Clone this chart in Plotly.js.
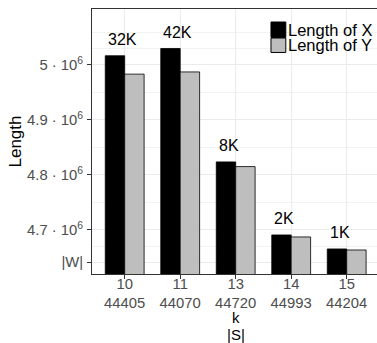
<!DOCTYPE html>
<html>
<head>
<meta charset="utf-8">
<script src="https://cdn.plot.ly/plotly-3.0.1.min.js"></script>
<style>html,body{margin:0;padding:0;background:#fff;}#chart{width:377px;height:343px;}</style>
</head>
<body>
<div id="chart"></div>
<script>
// ---- data ----
const kValues = ["10", "11", "13", "14", "15"];
const sizeS = ["44405", "44070", "44720", "44993", "44204"];
const lengthX = [5016400, 5029600, 4823600, 4690900, 4665500];
const lengthY = [4983000, 4987000, 4815100, 4687300, 4663600];
const barLabels = ["32K", "42K", "8K", "2K", "1K"];
const seriesNames = ["Length of X", "Length of Y"];
const seriesColors = ["#000000", "#BEBEBE"];
const W = 4641652;
const yTickVals = [W, 4700000, 4800000, 4900000, 5000000];
const yTickText = ["|W|", "4.7 · 10<sup>6</sup>", "4.8 · 10<sup>6</sup>", "4.9 · 10<sup>6</sup>", "5 · 10<sup>6</sup>"];
const yMinorVals = [4670826, 4750000, 4850000, 4950000, 5029174, 5058348];
const xTitleLines = ["k", "|S|"];

const xTickText = kValues.map((k, i) => k + "<br>" + sizeS[i]);

const traces = [lengthX, lengthY].map((vals, i) => ({
  type: "bar",
  x: kValues,
  y: vals,
  name: seriesNames[i],
  marker: {color: seriesColors[i], line: {color: "#000000", width: 0.8}},
  showlegend: false,
  hoverinfo: "skip"
}));

// labels above each group (category index positions)
const annotations = kValues.map((k, i) => ({
  x: i, y: lengthX[i], xref: "x", yref: "y",
  text: barLabels[i], showarrow: false,
  xanchor: "left", yanchor: "middle", xshift: -19, yshift: 16,
  font: {family: "Liberation Sans, Arial, sans-serif", size: 16, color: "#000000"}
}));

// manual legend
const legX0 = 0.628, legX1 = 0.68;
const legRows = [[0.8927, 0.9509], [0.8360, 0.8905]];
const shapes = seriesNames.map((n, i) => ({
  type: "rect", xref: "paper", yref: "paper",
  x0: legX0, x1: legX1, y0: legRows[i][0], y1: legRows[i][1],
  fillcolor: seriesColors[i], line: {color: "#000000", width: 1}
}));
seriesNames.forEach((n, i) => {
  annotations.push({
    xref: "paper", yref: "paper", x: 0.679, y: (legRows[i][0] + legRows[i][1]) / 2,
    text: n, showarrow: false, xanchor: "left", yanchor: "middle",
    font: {family: "Liberation Sans, Arial, sans-serif", size: 16.5, color: "#000000"}
  });
});

// x axis title (two lines, placed separately)
const xTitleY = [-0.1625, -0.2267];
xTitleLines.forEach((t, i) => {
  annotations.push({
    xref: "paper", yref: "paper", x: 0.505, y: xTitleY[i],
    text: t, showarrow: false, xanchor: "center", yanchor: "middle", borderpad: 0,
    font: {family: "Liberation Sans, Arial, sans-serif", size: 15, color: "#000000"}
  });
});

const layout = {
  width: 377, height: 343,
  margin: {l: 92, r: 0, t: 9, b: 69},
  paper_bgcolor: "#ffffff", plot_bgcolor: "#ffffff",
  barmode: "group", bargap: 0.3, bargroupgap: 0,
  font: {family: "Liberation Sans, Arial, sans-serif"},
  xaxis: {
    type: "category", range: [-0.589, 4.546],
    tickmode: "array", tickvals: kValues, ticktext: xTickText,
    tickfont: {size: 14.8, color: "#4D4D4D"},
    ticks: "outside", ticklen: 4, tickcolor: "#333333", tickwidth: 1,
    ticklabelstandoff: -8,
    showgrid: true, gridcolor: "#EBEBEB", gridwidth: 1,
    showline: true, linecolor: "#333333", linewidth: 1, mirror: true,
    zeroline: false, fixedrange: true
  },
  yaxis: {
    range: [4620000, 5101300],
    tickmode: "array", tickvals: yTickVals, ticktext: yTickText,
    tickfont: {size: 14.8, color: "#4D4D4D"},
    ticks: "outside", ticklen: 4, tickcolor: "#333333", tickwidth: 1,
    ticklabelstandoff: 1,
    showgrid: true, gridcolor: "#EBEBEB", gridwidth: 1,
    minor: {tickmode: "array", tickvals: yMinorVals, showgrid: true, gridcolor: "#EBEBEB", gridwidth: 0.6, ticks: ""},
    showline: true, linecolor: "#333333", linewidth: 1, mirror: false,
    zeroline: false, fixedrange: true,
    title: {text: "Length", font: {size: 17, color: "#000000"}}
  },
  shapes: shapes,
  annotations: annotations
};

Plotly.newPlot("chart", traces, layout, {staticPlot: true, displayModeBar: false});
</script>
</body>
</html>
